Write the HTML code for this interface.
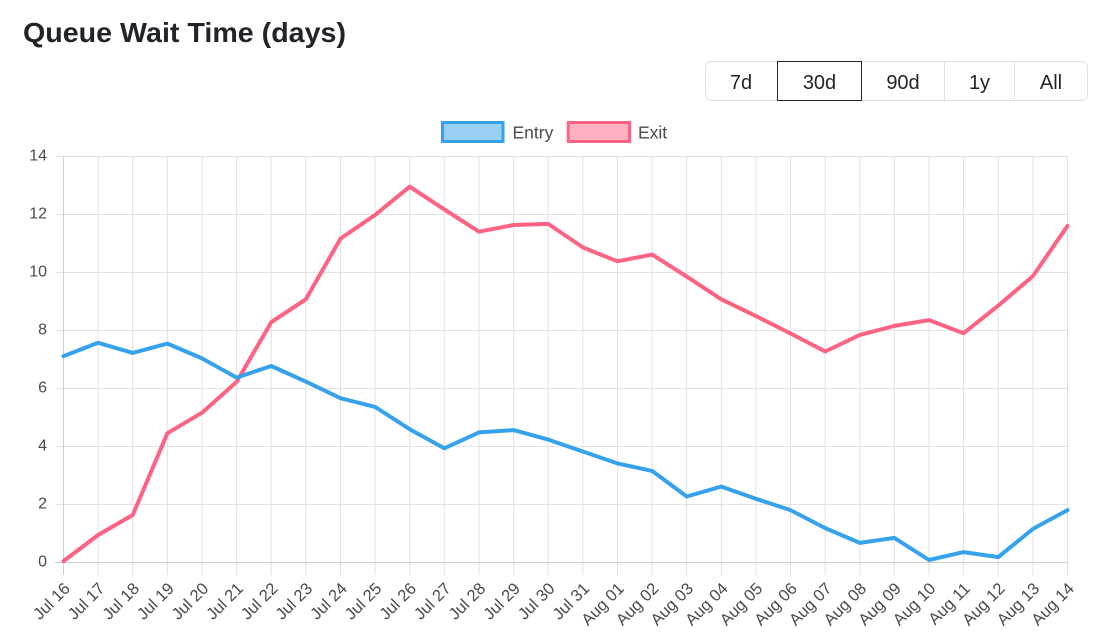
<!DOCTYPE html>
<html>
<head>
<meta charset="utf-8">
<style>
html,body{margin:0;padding:0;background:#fff;}
body{width:1114px;height:643px;overflow:hidden;}
svg{display:block;font-family:"Liberation Sans",Arial,sans-serif;}
</style>
</head>
<body>
<svg width="1114" height="643" viewBox="0 0 1114 643" xmlns="http://www.w3.org/2000/svg">
  <!-- Title -->
  <text x="23" y="42" font-size="28" font-weight="bold" fill="#212529" textLength="323" lengthAdjust="spacingAndGlyphs">Queue Wait Time (days)</text>

  <!-- Button group -->
  <rect x="705.5" y="61.5" width="382" height="39" rx="6" ry="6" fill="#fff" stroke="#dee2e6" stroke-width="1"/>
  <line x1="944.5" y1="62" x2="944.5" y2="100" stroke="#dee2e6"/>
  <line x1="1014.5" y1="62" x2="1014.5" y2="100" stroke="#dee2e6"/>
  <rect x="777.5" y="61.5" width="84" height="39" fill="none" stroke="#212529" stroke-width="1"/>
  <g font-size="20" fill="#212529" text-anchor="middle">
    <text x="741" y="89">7d</text>
    <text x="819.5" y="89">30d</text>
    <text x="903" y="89">90d</text>
    <text x="979.5" y="89">1y</text>
    <text x="1051" y="89">All</text>
  </g>

  <!-- Legend -->
  <rect x="442.5" y="122.5" width="60.5" height="19" fill="#9ad0f5" stroke="#36a2eb" stroke-width="3"/>
  <text x="512.5" y="138.3" font-size="17.5" fill="#4a4a4a">Entry</text>
  <rect x="568.2" y="122.5" width="61.3" height="19" fill="#ffb1c1" stroke="#ff6384" stroke-width="3"/>
  <text x="638" y="138.3" font-size="17.5" fill="#4a4a4a">Exit</text>

  <!-- Grid horizontal -->
  <g stroke="#e2e2e2" stroke-width="1">
    <line x1="55" y1="156.5" x2="1067.5" y2="156.5"/>
    <line x1="55" y1="214.5" x2="1067.5" y2="214.5"/>
    <line x1="55" y1="272.5" x2="1067.5" y2="272.5"/>
    <line x1="55" y1="330.5" x2="1067.5" y2="330.5"/>
    <line x1="55" y1="388.5" x2="1067.5" y2="388.5"/>
    <line x1="55" y1="446.5" x2="1067.5" y2="446.5"/>
    <line x1="55" y1="504.5" x2="1067.5" y2="504.5"/>
  </g>
  <!-- Grid vertical -->
  <g stroke="#e2e2e2" stroke-width="1">
    <line x1="98.1" y1="156" x2="98.1" y2="575"/>
    <line x1="132.7" y1="156" x2="132.7" y2="575"/>
    <line x1="167.4" y1="156" x2="167.4" y2="575"/>
    <line x1="202.0" y1="156" x2="202.0" y2="575"/>
    <line x1="236.6" y1="156" x2="236.6" y2="575"/>
    <line x1="271.2" y1="156" x2="271.2" y2="575"/>
    <line x1="305.8" y1="156" x2="305.8" y2="575"/>
    <line x1="340.5" y1="156" x2="340.5" y2="575"/>
    <line x1="375.1" y1="156" x2="375.1" y2="575"/>
    <line x1="409.7" y1="156" x2="409.7" y2="575"/>
    <line x1="444.3" y1="156" x2="444.3" y2="575"/>
    <line x1="479.0" y1="156" x2="479.0" y2="575"/>
    <line x1="513.6" y1="156" x2="513.6" y2="575"/>
    <line x1="548.2" y1="156" x2="548.2" y2="575"/>
    <line x1="582.8" y1="156" x2="582.8" y2="575"/>
    <line x1="617.4" y1="156" x2="617.4" y2="575"/>
    <line x1="652.1" y1="156" x2="652.1" y2="575"/>
    <line x1="686.7" y1="156" x2="686.7" y2="575"/>
    <line x1="721.3" y1="156" x2="721.3" y2="575"/>
    <line x1="755.9" y1="156" x2="755.9" y2="575"/>
    <line x1="790.5" y1="156" x2="790.5" y2="575"/>
    <line x1="825.2" y1="156" x2="825.2" y2="575"/>
    <line x1="859.8" y1="156" x2="859.8" y2="575"/>
    <line x1="894.4" y1="156" x2="894.4" y2="575"/>
    <line x1="929.0" y1="156" x2="929.0" y2="575"/>
    <line x1="963.6" y1="156" x2="963.6" y2="575"/>
    <line x1="998.3" y1="156" x2="998.3" y2="575"/>
    <line x1="1032.9" y1="156" x2="1032.9" y2="575"/>
    <line x1="1067.5" y1="156" x2="1067.5" y2="575"/>
  </g>
  <!-- Axes -->
  <line x1="63.5" y1="156" x2="63.5" y2="575" stroke="#cfcfcf"/>
  <line x1="55" y1="562.5" x2="1067.5" y2="562.5" stroke="#cfcfcf"/>

  <!-- Y labels -->
  <g font-size="16" fill="#4a4a4a" text-anchor="end" dominant-baseline="central">
    <text x="47" y="156">14</text>
    <text x="47" y="214">12</text>
    <text x="47" y="272">10</text>
    <text x="47" y="330">8</text>
    <text x="47" y="388">6</text>
    <text x="47" y="446">4</text>
    <text x="47" y="504">2</text>
    <text x="47" y="562">0</text>
  </g>

  <!-- X labels -->
  <g font-size="16.5" fill="#4a4a4a" text-anchor="end" dominant-baseline="central">
    <text transform="translate(67.5,586) rotate(-45)">Jul 16</text>
    <text transform="translate(102.1,586) rotate(-45)">Jul 17</text>
    <text transform="translate(136.7,586) rotate(-45)">Jul 18</text>
    <text transform="translate(171.4,586) rotate(-45)">Jul 19</text>
    <text transform="translate(206.0,586) rotate(-45)">Jul 20</text>
    <text transform="translate(240.6,586) rotate(-45)">Jul 21</text>
    <text transform="translate(275.2,586) rotate(-45)">Jul 22</text>
    <text transform="translate(309.8,586) rotate(-45)">Jul 23</text>
    <text transform="translate(344.5,586) rotate(-45)">Jul 24</text>
    <text transform="translate(379.1,586) rotate(-45)">Jul 25</text>
    <text transform="translate(413.7,586) rotate(-45)">Jul 26</text>
    <text transform="translate(448.3,586) rotate(-45)">Jul 27</text>
    <text transform="translate(483.0,586) rotate(-45)">Jul 28</text>
    <text transform="translate(517.6,586) rotate(-45)">Jul 29</text>
    <text transform="translate(552.2,586) rotate(-45)">Jul 30</text>
    <text transform="translate(586.8,586) rotate(-45)">Jul 31</text>
    <text transform="translate(621.4,586) rotate(-45)">Aug 01</text>
    <text transform="translate(656.1,586) rotate(-45)">Aug 02</text>
    <text transform="translate(690.7,586) rotate(-45)">Aug 03</text>
    <text transform="translate(725.3,586) rotate(-45)">Aug 04</text>
    <text transform="translate(759.9,586) rotate(-45)">Aug 05</text>
    <text transform="translate(794.5,586) rotate(-45)">Aug 06</text>
    <text transform="translate(829.2,586) rotate(-45)">Aug 07</text>
    <text transform="translate(863.8,586) rotate(-45)">Aug 08</text>
    <text transform="translate(898.4,586) rotate(-45)">Aug 09</text>
    <text transform="translate(933.0,586) rotate(-45)">Aug 10</text>
    <text transform="translate(967.6,586) rotate(-45)">Aug 11</text>
    <text transform="translate(1002.3,586) rotate(-45)">Aug 12</text>
    <text transform="translate(1036.9,586) rotate(-45)">Aug 13</text>
    <text transform="translate(1071.5,586) rotate(-45)">Aug 14</text>
  </g>

  <!-- Exit series -->
  <polyline fill="none" stroke="#ff6384" stroke-width="4" stroke-linejoin="round" stroke-linecap="round"
    points="63.5,561.1 98.1,535.0 132.7,515.0 167.4,433.2 202.0,412.7 236.6,381.9 271.2,322.2 305.8,299.3 340.5,238.6 375.1,214.9 409.7,186.7 444.3,209.4 479.0,231.7 513.6,225.0 548.2,223.9 582.8,247.4 617.4,261.3 652.1,254.6 686.7,276.6 721.3,299.3 755.9,316.1 790.5,333.5 825.2,351.5 859.8,334.9 894.4,325.9 929.0,320.1 963.6,333.2 998.3,305.6 1032.9,276.1 1067.5,225.9"/>
  <!-- Entry series -->
  <polyline fill="none" stroke="#36a2eb" stroke-width="4" stroke-linejoin="round" stroke-linecap="round"
    points="63.5,356.1 98.1,342.8 132.7,352.9 167.4,343.6 202.0,358.4 236.6,377.6 271.2,366.0 305.8,381.6 340.5,398.2 375.1,406.9 409.7,429.2 444.3,448.3 479.0,432.4 513.6,430.1 548.2,439.6 582.8,451.5 617.4,463.4 652.1,470.9 686.7,496.5 721.3,486.6 755.9,498.8 790.5,510.1 825.2,528.1 859.8,542.9 894.4,537.9 929.0,560.0 963.6,552.1 998.3,557.1 1032.9,528.9 1067.5,510.1"/>
</svg>
</body>
</html>
